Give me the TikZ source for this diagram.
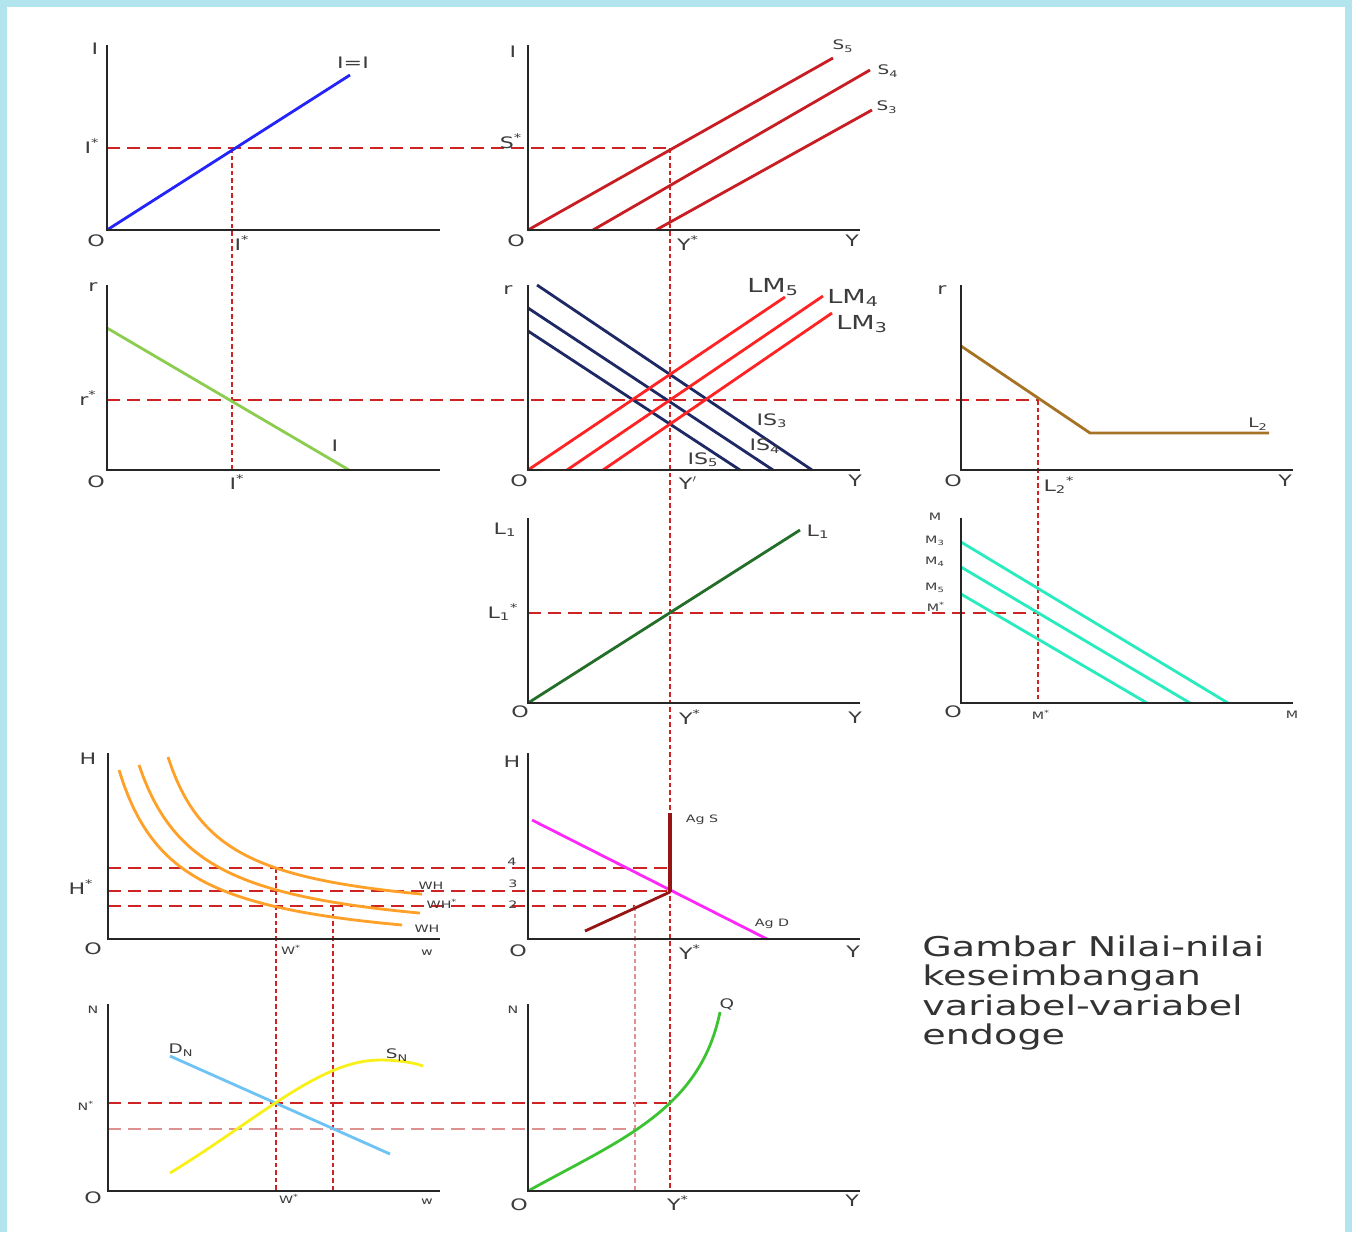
\documentclass[tikz,border=0pt]{standalone}
\usepackage{fontspec}
\setmainfont[FakeStretch=1.4]{DejaVu Sans}
\usepackage{xcolor}
\definecolor{framec}{RGB}{178,228,238}
\definecolor{labc}{RGB}{60,60,60}
\definecolor{guidec}{RGB}{205,35,35}
\definecolor{paleguidec}{RGB}{222,145,145}
\definecolor{iic}{RGB}{35,35,250}
\definecolor{savc}{RGB}{200,30,35}
\definecolor{invc}{RGB}{140,205,80}
\definecolor{isc}{RGB}{30,40,100}
\definecolor{lmc}{RGB}{255,35,35}
\definecolor{ltwoc}{RGB}{165,115,35}
\definecolor{lonec}{RGB}{35,110,40}
\definecolor{mc}{RGB}{40,235,190}
\definecolor{whc}{RGB}{255,160,40}
\definecolor{agdc}{RGB}{255,40,250}
\definecolor{agsc}{RGB}{150,20,20}
\definecolor{dnc}{RGB}{110,195,245}
\definecolor{snc}{RGB}{250,240,25}
\definecolor{qc}{RGB}{60,195,50}
\tikzset{
  axis/.style={draw=black!85, line width=1.1pt},
  curve/.style={line width=1.6pt},
  guide/.style={draw=guidec, line width=0.8pt, dash pattern=on 7.5pt off 4pt},
  paleguide/.style={guide, draw=paleguidec},
  drop/.style={draw=guidec, line width=1.6pt, dash pattern=on 2.6pt off 1.7pt},
  paledrop/.style={drop, draw=paleguidec},
  lab/.style={font=\fontsize{9}{10}\selectfont, text=labc, inner sep=0pt},
  mlab/.style={lab, font=\fontsize{7.5}{8}\selectfont},
  slab/.style={lab, font=\fontsize{5.8}{6}\selectfont},
  blab/.style={lab, font=\fontsize{11}{12}\selectfont},
  caption/.style={font=\fontsize{15.5}{16.8}\selectfont, text=black!80, align=left, inner sep=0pt, anchor=north west}
}
\newcommand{\starred}[1]{#1\textsuperscript{*}}

\begin{document}
\begin{tikzpicture}[x=0.02cm, y=-0.02cm]
  % frame
  \fill[framec] (0,0) rectangle (1352,1232);
  \fill[white] (7,7) rectangle (1345,1232);
  \useasboundingbox (0,0) rectangle (1352,1232);

  % ---- equilibrium points ----
  \coordinate (eqI) at (232,148);
  \coordinate (eqS) at (670,148);
  \coordinate (eqIaxis) at (232,470);
  \coordinate (eqL2) at (1038,400);
  \coordinate (eqM) at (1038,613);
  \coordinate (eqMaxis) at (1038,703);
  \coordinate (yaxisN) at (670,1191);
  \coordinate (h4) at (276,868);  \coordinate (h4b) at (670,868);
  \coordinate (h3) at (108,891);  \coordinate (h3b) at (670,891);
  \coordinate (h2) at (333,906);  \coordinate (h2b) at (635,906);
  \coordinate (wstar) at (276,1191);
  \coordinate (wtwo) at (333,1191);
  \coordinate (ytwo) at (635,1191);
  \coordinate (eqN) at (670,1103);
  \coordinate (eqNb) at (635,1129);

  % ---- guides ----
  \draw[guide] (107,148) -- (eqS);
  \draw[guide] (107,400) -- (eqL2);
  \draw[guide] (528,613) -- (eqM);
  \draw[guide] (108,868) -- (h4b);
  \draw[guide] (h3) -- (h3b);
  \draw[guide] (108,906) -- (h2b);
  \draw[guide] (108,1103) -- (eqN);
  \draw[paleguide] (108,1129) -- (eqNb);
  \draw[drop] (eqI) -- (eqIaxis);
  \draw[drop] (eqS) -- (yaxisN);
  \draw[drop] (eqL2) -- (eqMaxis);
  \draw[drop] (h4) -- (wstar);
  \draw[drop] (h2) -- (wtwo);
  \draw[paledrop] (h2b) -- (ytwo);

  % ---- curves ----
  \draw[curve, iic] (107,230) -- (350,75);
  \draw[curve, savc] (528,230) -- (833,58);
  \draw[curve, savc] (593,230) -- (870,70);
  \draw[curve, savc] (656,230) -- (872,110);
  \draw[curve, invc] (107,328) -- (349,470);
  \foreach \ya/\xa/\xb/\yb in {285/537/812/470, 308/528/773/470, 331/528/740/470}
    \draw[curve, isc] (\xa,\ya) -- (\xb,\yb);
  \foreach \xa/\xb/\yb in {528/785/297, 567/823/296, 603/832/313}
    \draw[curve, lmc] (\xa,470) -- (\xb,\yb);
  \draw[curve, ltwoc] (961,346) -- (1090,433) -- (1269,433);
  \draw[curve, lonec] (528,703) -- (800,530);
  \foreach \ya/\xb in {542/1228, 567/1190, 594/1147}
    \draw[curve, mc] (961,\ya) -- (\xb,703);
  \draw[curve, whc] plot[domain=119:402, samples=60] (\x, {956-10527/(\x-62.4)});
  \draw[curve, whc] plot[domain=139:420, samples=60] (\x, {945-10908/(\x-78.4)});
  \draw[curve, whc] plot[domain=168:422, samples=60] (\x, {923-8881/(\x-114.5)});
  \draw[curve, agdc] (532,820) -- (767,939);
  \draw[curve, agsc] (585,931) -- (670,892);
  \draw[agsc, line width=2.3pt] (670,892) -- (670,813);
  \draw[curve, dnc] (170,1056) -- (390,1154);
  \draw[curve, snc] (170,1173) .. controls (260,1118) and (320,1060) .. (380,1060)
    .. controls (400,1060) and (415,1063) .. (423,1066);
  \draw[curve, qc] (528,1191) .. controls (620,1140) and (700,1110) .. (720,1012);

  % ---- axes ----
  \foreach \xo/\yo/\yt/\xe in {107/230/45/440, 528/230/45/860, 107/470/285/440, 528/470/285/860,
      961/470/285/1293, 528/703/518/860, 961/703/518/1293, 108/939/753/440, 528/939/753/860,
      108/1191/1004/440, 528/1191/1004/860}
    \draw[axis] (\xo,\yt) -- (\xo,\yo) -- (\xe,\yo);

  % ---- labels: I = I ----
  \node[lab] (iaxis) at (95,49) {I};
  \node[lab] (iline) at (353,63) {I=I};
  \node[lab] (istar) at (92,146) {\starred{I}};
  \node[lab] (io) at (96,241) {O};
  \node[lab] (istarx) at (242,243) {\starred{I}};
  % ---- labels: saving ----
  \node[lab] (saxis) at (513,52) {I};
  \node[mlab] (sfive) at (843,46) {S\textsubscript{5}};
  \node[mlab] (sfour) at (888,71) {S\textsubscript{4}};
  \node[mlab] (sthree) at (887,107) {S\textsubscript{3}};
  \node[lab] (sstar) at (511,141) {\starred{S}};
  \node[lab] (so) at (516,241) {O};
  \node[lab] (systar) at (688,243) {\starred{Y}};
  \node[lab] (sy) at (852,241) {Y};
  % ---- labels: investment ----
  \node[lab] (raxis) at (93,287) {r};
  \node[lab] (rline) at (335,446) {I};
  \node[lab] (rstar) at (88,398) {\starred{r}};
  \node[lab] (ro) at (96,482) {O};
  \node[lab] (ristar) at (237,482) {\starred{I}};
  % ---- labels: IS-LM ----
  \node[lab] (isaxis) at (508,290) {r};
  \node[blab] (lmfive) at (773,287) {LM\textsubscript{5}};
  \node[blab] (lmfour) at (853,298) {LM\textsubscript{4}};
  \node[blab] (lmthree) at (862,324) {LM\textsubscript{3}};
  \node[lab] (isthree) at (772,421) {IS\textsubscript{3}};
  \node[lab] (isfour) at (765,446) {IS\textsubscript{4}};
  \node[lab] (isfive) at (703,460) {IS\textsubscript{5}};
  \node[lab] (iso) at (519,481) {O};
  \node[lab] (isystar) at (688,483) {Y$'$};
  \node[lab] (isy) at (855,481) {Y};
  % ---- labels: L2 ----
  \node[lab] (ltaxis) at (942,290) {r};
  \node[lab] (lto) at (953,481) {O};
  \node[lab] (ltstar) at (1059,485) {\starred{L\textsubscript{2}}};
  \node[lab] (lty) at (1285,481) {Y};
  \node[mlab] (ltline) at (1258,424) {L\textsubscript{2}};
  % ---- labels: L1 ----
  \node[lab] (loaxis) at (505,530) {L\textsubscript{1}};
  \node[lab] (loline) at (818,532) {L\textsubscript{1}};
  \node[lab] (lostar) at (503,612) {\starred{L\textsubscript{1}}};
  \node[lab] (loo) at (520,712) {O};
  \node[lab] (loystar) at (690,717) {\starred{Y}};
  \node[lab] (loy) at (855,718) {Y};
  % ---- labels: money ----
  \node[slab] (maxis) at (935,517) {M};
  \node[slab] (mthree) at (935,541) {M\textsubscript{3}};
  \node[slab] (mfour) at (935,562) {M\textsubscript{4}};
  \node[slab] (mfive) at (935,588) {M\textsubscript{5}};
  \node[slab] (mstar) at (936,607) {\starred{M}};
  \node[lab] (mo) at (953,712) {O};
  \node[slab] (mstarx) at (1041,715) {\starred{M}};
  \node[slab] (mx) at (1292,715) {M};
  % ---- labels: WH ----
  \node[lab] (whaxis) at (88,759) {H};
  \node[lab] (whstar) at (81,887) {\starred{H}};
  \node[lab] (who) at (93,949) {O};
  \node[slab] (whwstar) at (291,950) {\starred{W}};
  \node[slab] (whw) at (427,953) {w};
  \node[slab] (whone) at (431,886) {WH};
  \node[slab] (whtwo) at (442,904) {\starred{WH}};
  \node[slab] (whthree) at (427,929) {WH};
  % ---- labels: aggregate ----
  \node[lab] (agaxis) at (512,762) {H};
  \node[slab] (ags) at (702,820) {Ag S};
  \node[slab] (agd) at (772,924) {Ag D};
  \node[slab] (agfour) at (512,862) {4};
  \node[slab] (agthree) at (513,884) {3};
  \node[slab] (agtwo) at (513,905) {2};
  \node[lab] (ago) at (518,951) {O};
  \node[lab] (agystar) at (690,952) {\starred{Y}};
  \node[lab] (agy) at (853,952) {Y};
  % ---- labels: labour ----
  \node[slab] (naxis) at (93,1010) {N};
  \node[slab] (nstar) at (86,1106) {\starred{N}};
  \node[lab] (no) at (93,1198) {O};
  \node[slab] (nwstar) at (289,1199) {\starred{W}};
  \node[slab] (nw) at (427,1202) {w};
  \node[mlab] (dn) at (181,1050) {D\textsubscript{N}};
  \node[mlab] (sn) at (397,1055) {S\textsubscript{N}};
  % ---- labels: production ----
  \node[slab] (qaxis) at (513,1010) {N};
  \node[lab] (qo) at (519,1205) {O};
  \node[lab] (qystar) at (678,1203) {\starred{Y}};
  \node[lab] (qy) at (852,1201) {Y};
  \node[mlab] (qline) at (727,1004) {Q};

  % caption
  \node[caption] (title) at (922,935) {Gambar Nilai-nilai\\keseimbangan\\variabel-variabel\\endoge};
\end{tikzpicture}
\end{document}
